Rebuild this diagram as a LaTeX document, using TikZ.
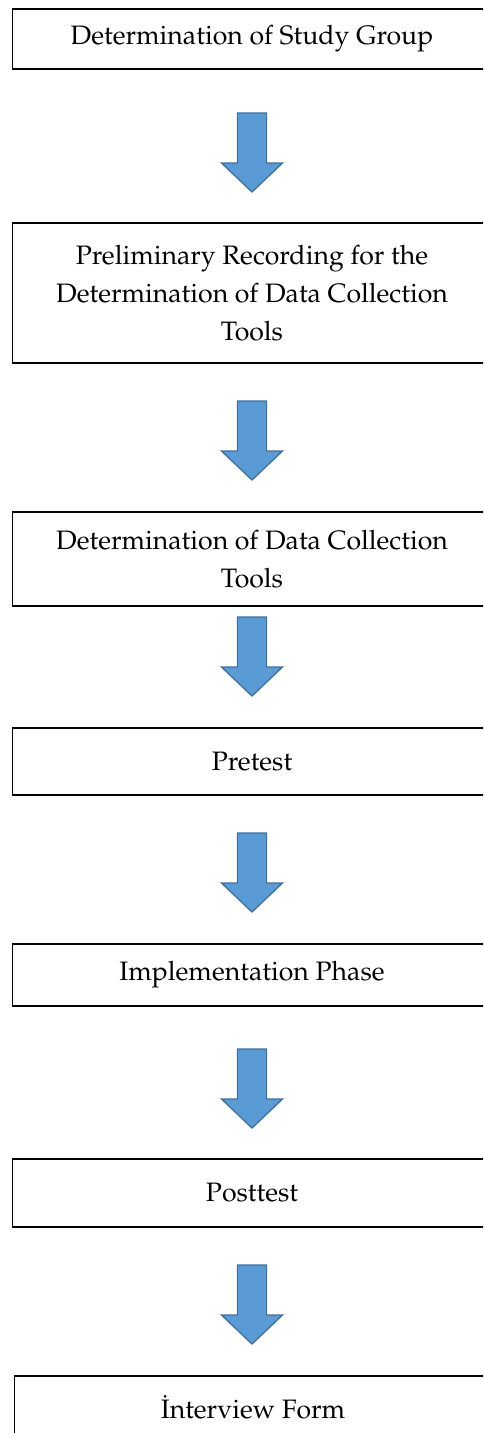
\documentclass[tikz,border=0pt]{standalone}
\usepackage[T1]{fontenc}
\usepackage{mathpazo}
\definecolor{arrfill}{HTML}{5B9BD5}
\definecolor{arrline}{HTML}{41719C}
\tikzset{
  stepbox/.style={draw=black, line width=1pt, rectangle, minimum width=479*0.75pt, inner sep=0pt,
    align=center, font=\fontsize{20}{28.5}\selectfont},
  flowarrow/.style={fill=arrfill, draw=arrline, line width=1pt, line join=miter},
}
\newcommand\flowarr[2]{%
  \coordinate (#1) at (252,#2);
  \begin{scope}[shift={(#1)}]
    \draw[flowarrow] (-14.5,0) -- (14.5,0) -- (14.5,50) -- (30.5,50) -- (0,79) -- (-30.5,50) -- (-14.5,50) -- cycle;
  \end{scope}}
\begin{document}
\begin{tikzpicture}[x=0.75pt, y=-0.75pt]
\useasboundingbox (0,0) rectangle (483,1433);
\clip (0,0) rectangle (483,1433);
\node[stepbox, minimum height=60*0.75pt] (b1) at (252,39) {Determination of Study Group};
\flowarr{a1}{113}
\node[stepbox, minimum height=140*0.75pt] (b2) at (252,293) {Preliminary Recording for the\\Determination of Data Collection\\Tools};
\flowarr{a2}{401}
\node[stepbox, minimum height=94*0.75pt] (b3) at (252,559) {Determination of Data Collection\\Tools};
\flowarr{a3}{617}
\node[stepbox, minimum height=67*0.75pt] (b4) at (252,761.5) {Pretest};
\flowarr{a4}{833}
\node[stepbox, minimum height=62*0.75pt] (b5) at (252,975) {Implementation Phase};
\flowarr{a5}{1049}
\node[stepbox, minimum height=68*0.75pt] (b6) at (252,1193) {Posttest};
\flowarr{a6}{1265}
\node[stepbox, minimum width=477*0.75pt, minimum height=62*0.75pt] (b7) at (253,1407) {\.Interview Form};
\end{tikzpicture}
\end{document}
